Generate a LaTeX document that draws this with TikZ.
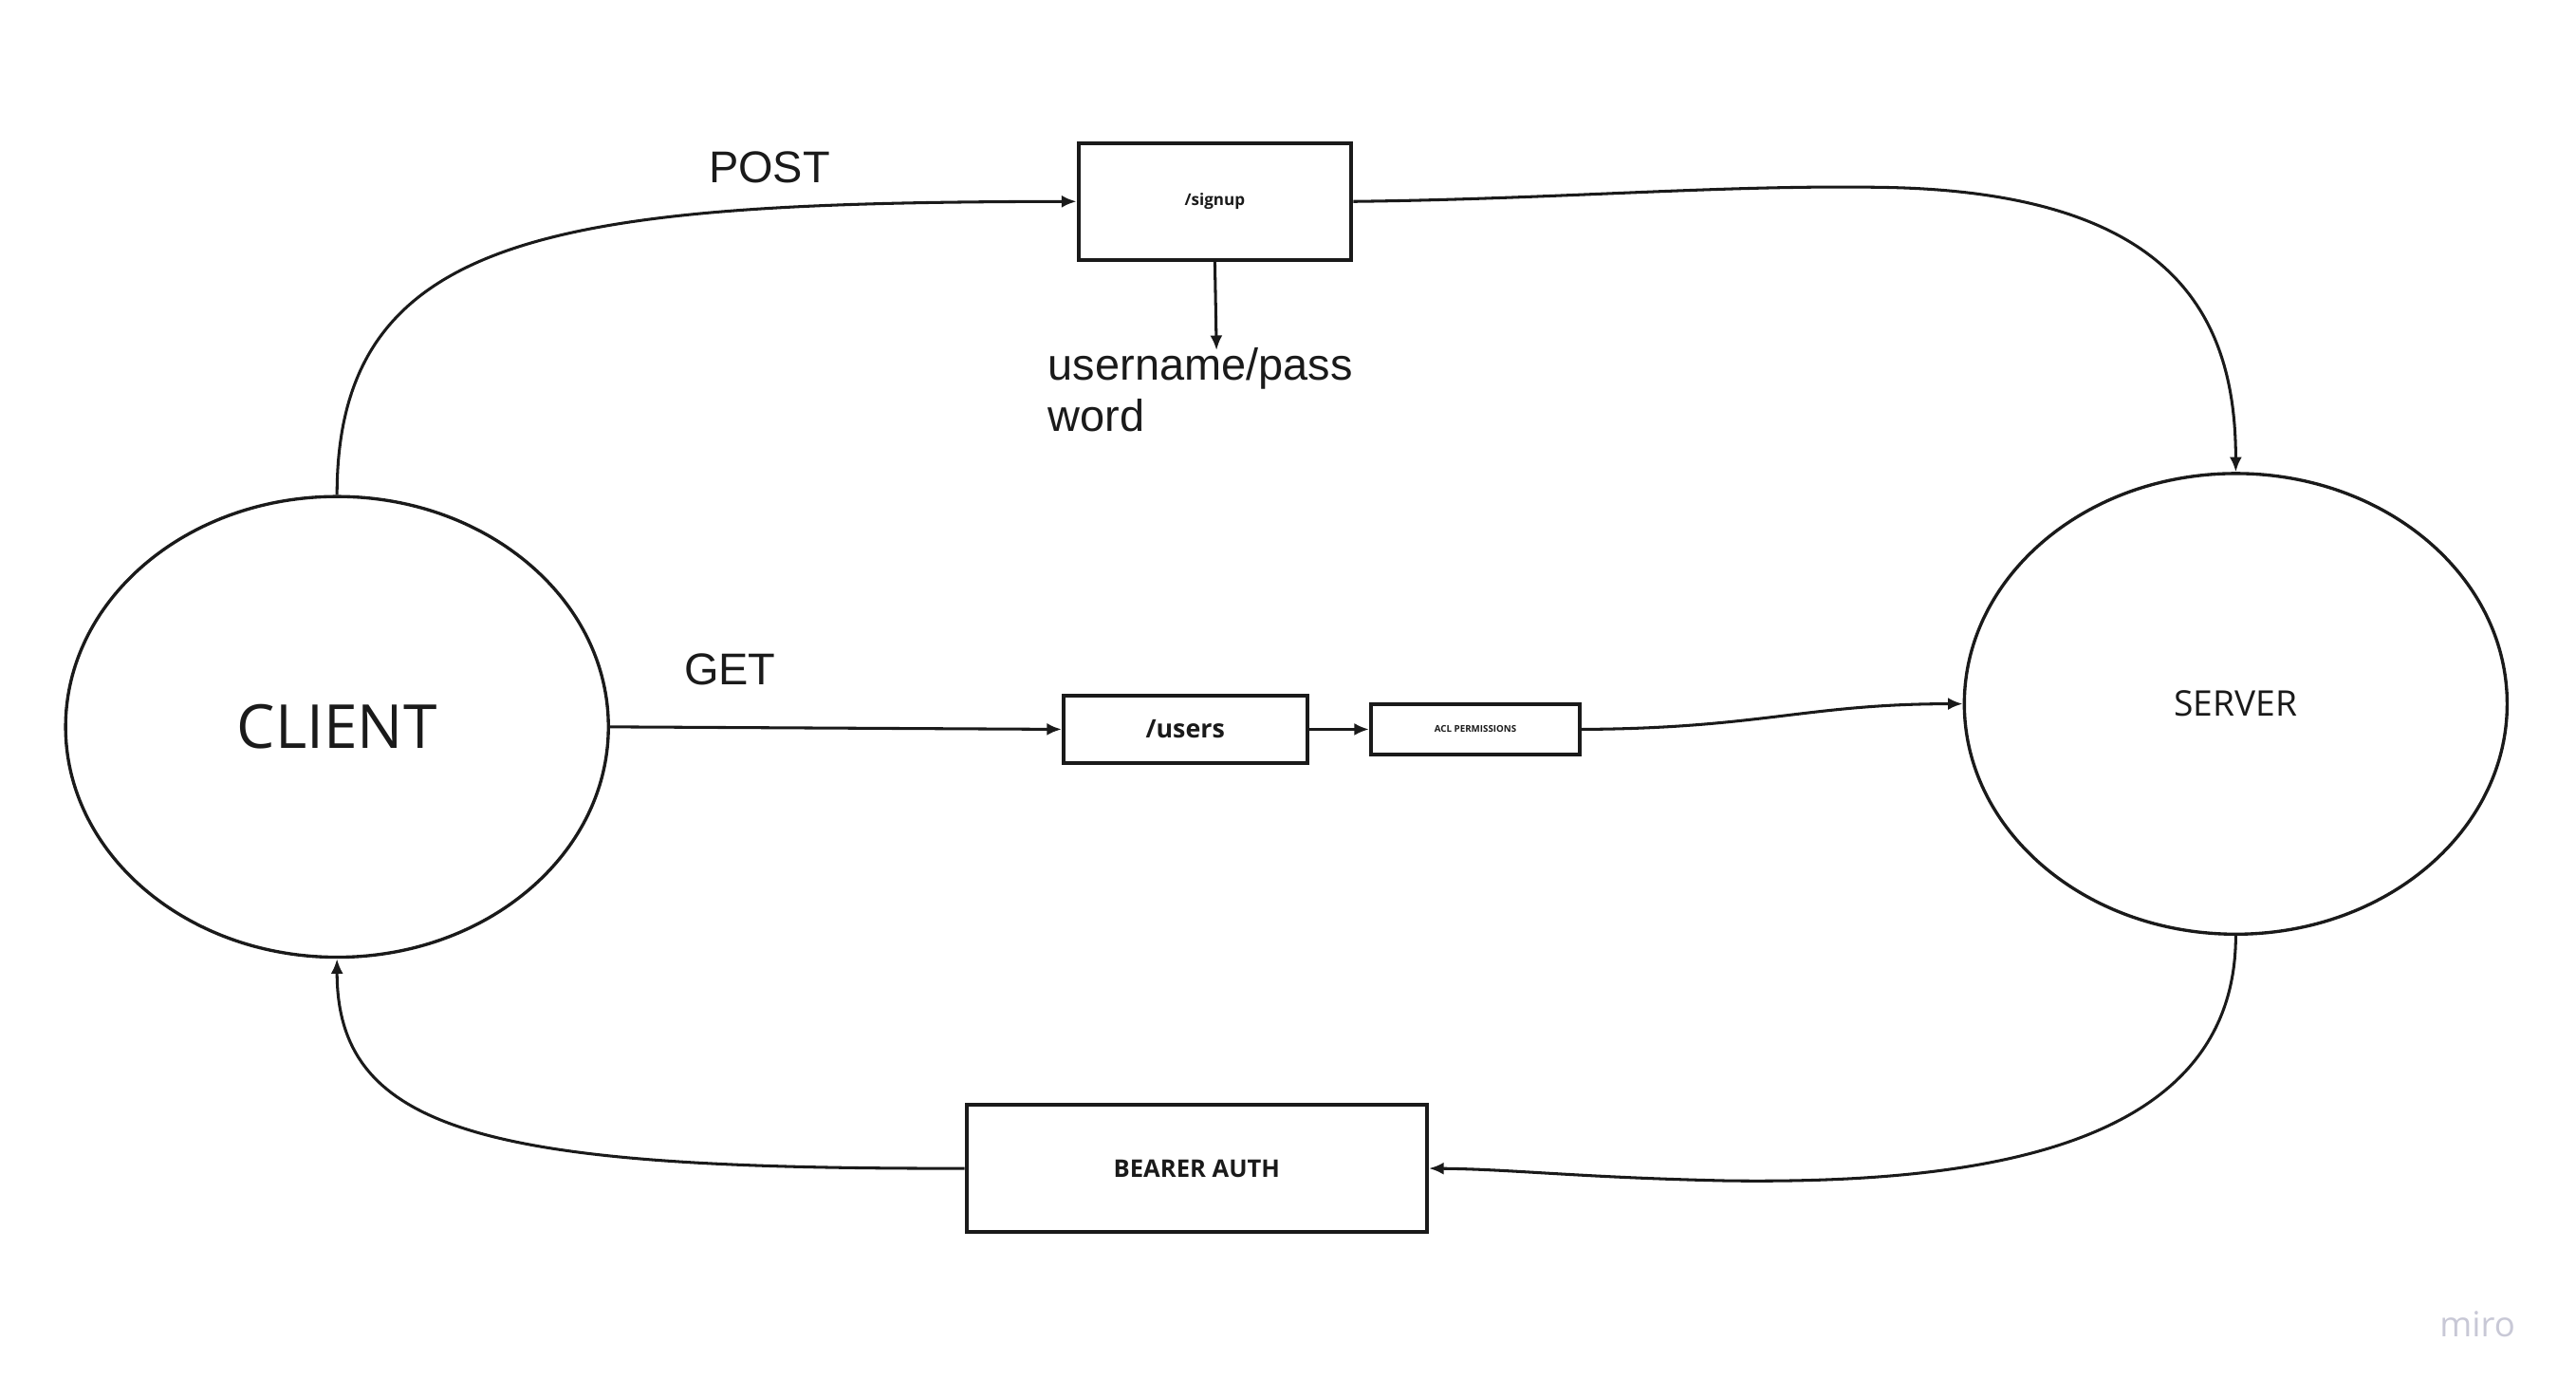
\documentclass[tikz,border=0pt]{standalone}
\usepackage{fontspec}
\newfontfamily\osans{Open Sans}
\newfontfamily\arial{Liberation Sans}
\usetikzlibrary{shapes.geometric,arrows.meta}
\definecolor{ink}{RGB}{26,26,26}
\definecolor{mirogray}{RGB}{200,200,214}
\begin{document}
\begin{tikzpicture}[x=0.01cm,y=-0.01cm,
    party/.style={ellipse,draw=ink,line width=0.55pt,inner sep=0pt,
      minimum width=3.3cm,minimum height=2.8cm,text=ink},
    route/.style={rectangle,draw=ink,line width=0.65pt,inner sep=0pt,
      text=ink,font=\osans\bfseries},
    verb/.style={inner sep=0pt,text=ink},
    flow/.style={-{Latex[length=0.9mm,width=0.75mm]},line width=0.5pt,ink}]
  \useasboundingbox (0,0) rectangle (1567,850);
  \draw
    (205,442) node[party,font=\osans\fontsize{10.5}{12}\selectfont] (client){CLIENT}
    (1360,428) node[party,font=\osans\fontsize{6.1}{7}\selectfont] (server){SERVER}
    (739,122.5) node[route,minimum width=1.66cm,minimum height=0.71cm,
      font=\osans\bfseries\fontsize{2.8}{3}\selectfont] (signup){/signup}
    (721,443.5) node[route,minimum width=1.48cm,minimum height=0.41cm,
      font=\osans\bfseries\fontsize{4.4}{5}\selectfont] (users){/users}
    (897.5,443.5) node[route,minimum width=1.27cm,minimum height=0.31cm,
      font=\osans\bfseries\fontsize{1.6}{2}\selectfont] (acl){ACL PERMISSIONS}
    (728,710.5) node[route,minimum width=2.8cm,minimum height=0.77cm,
      font=\osans\bfseries\fontsize{4.2}{5}\selectfont] (bearer){BEARER AUTH}
    (468,102) node[verb,font=\arial\fontsize{7.7}{9}\selectfont] (post){POST}
    (444,407) node[verb,font=\arial\fontsize{7.7}{9}\selectfont] (get){GET}
    (637,211) node[verb,anchor=north west,align=left,
      font=\arial\fontsize{7.7}{8.8}\selectfont] (cred){username/pass\\word}
    (1507,805) node[verb,text=mirogray,font=\osans\fontsize{6}{7}\selectfont] (miro){miro};
  \coordinate (credtip) at (740,213);
  \begin{scope}[flow]
    \draw (client.north) .. controls (205,140) and (340,123) .. (signup.west);
    \draw (signup.south) -- (credtip);
    \draw (signup.east) .. controls (950,121) and (1050,112) .. (1150,114)
      .. controls (1320,118) and (1360,190) .. (server.north);
    \draw (client.east) -- (users.west);
    \draw (users.east) -- (acl.west);
    \draw (acl.east) .. controls (1070,443) and (1100,428) .. (server.west);
    \draw (server.south) .. controls (1360,700) and (1200,720) .. (1050,718)
      .. controls (960,716) and (920,711) .. (bearer.east);
    \draw (bearer.west) .. controls (300,711) and (205,690) .. (client.south);
  \end{scope}
\end{tikzpicture}
\end{document}
